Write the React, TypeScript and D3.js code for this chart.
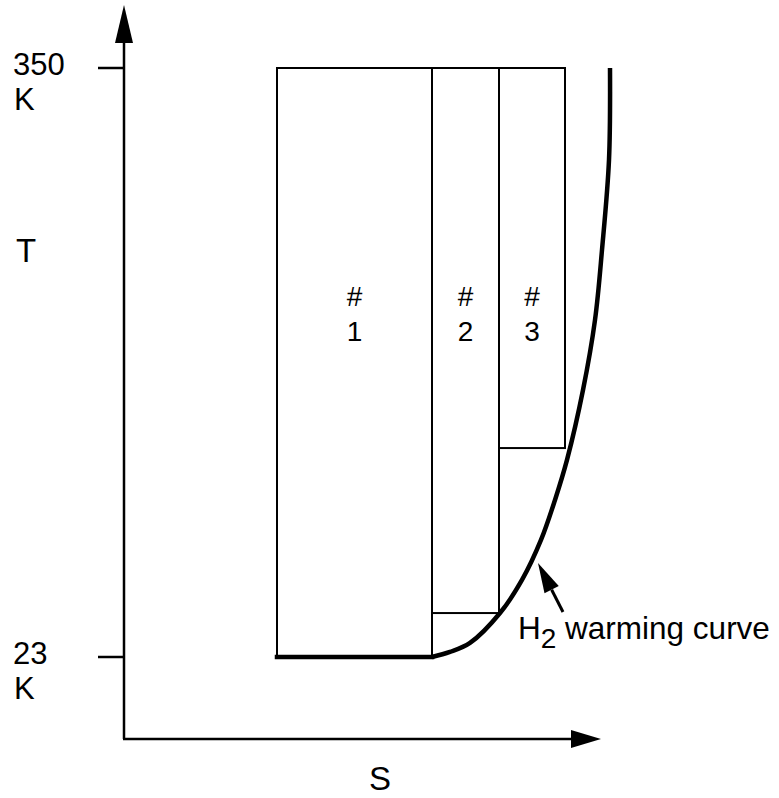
import React from "react";
import * as d3 from "d3";

// ---- data (S in arbitrary entropy units, T in kelvin) ----
const T_LOW = 23;
const T_HIGH = 350;
const tickValues = [23, 350];
const tickLabels = ["23", "350"];
const tickUnit = "K";

// stage rectangles: left S, right S, bottom T
const stageNames = ["1", "2", "3"];
const stageLeft = [30.6, 61.6, 75.0];
const stageRight = [61.6, 75.0, 88.2];
const stageBottom = [23, 47.4, 139];

// H2 warming curve (first segment is the flat 23 K stretch)
const curveS = [30.6, 61.6, 65.2, 69.2, 75.2, 79.6, 83.4, 86.2, 88.6, 91.8, 94.2, 95.6, 97.0, 97.2];
const curveT = [23, 23, 25.8, 30.8, 47.4, 65.8, 88.0, 110.2, 132.4, 171.2, 210.1, 249.0, 299.0, 350];

// annotation arrow (tail -> tip) in data units
const arrowS = [87.8, 82.8];
const arrowT = [48, 75.2];
const annotS = 78.8;
const annotT = 33;

const W = 779;
const H = 798;

export default function App() {
  const x = d3.scaleLinear().domain([0, 100]).range([124, 624]);
  const y = d3.scaleLinear().domain([T_LOW, T_HIGH]).range([657, 68]);

  const axisX0 = x(0);
  const axisY0 = 739;

  const idx = curveS.map((_, i) => i);
  const flat = d3
    .line<number>()
    .x((i) => x(curveS[i]))
    .y((i) => y(curveT[i]));
  const smooth = d3
    .line<number>()
    .x((i) => x(curveS[i]))
    .y((i) => y(curveT[i]))
    .curve(d3.curveCatmullRom.alpha(0.5));

  const font = "'Liberation Sans', Arial, Helvetica, sans-serif";

  // annotation arrow geometry
  const ax1 = x(arrowS[0]);
  const ay1 = y(arrowT[0]);
  const ax2 = x(arrowS[1]);
  const ay2 = y(arrowT[1]);
  const ang = Math.atan2(ay2 - ay1, ax2 - ax1);
  const headLen = 30;
  const headHalf = 8;
  const bx = ax2 - headLen * Math.cos(ang);
  const by = ay2 - headLen * Math.sin(ang);
  const px = -Math.sin(ang) * headHalf;
  const py = Math.cos(ang) * headHalf;

  return (
    <svg
      width={W}
      height={H}
      style={{ position: "absolute", left: 0, top: 0, background: "#fff" }}
      fontFamily={font}
    >
      {/* axes */}
      <line x1={axisX0} y1={axisY0} x2={axisX0} y2={40} stroke="#000" strokeWidth={2.5} />
      <polygon points={`${axisX0},5 ${axisX0 - 9},43 ${axisX0 + 9},43`} fill="#000" />
      <line x1={axisX0 - 1} y1={axisY0} x2={574} y2={axisY0} stroke="#000" strokeWidth={2.5} />
      <polygon points={`601,${axisY0} 571,${axisY0 - 9} 571,${axisY0 + 9}`} fill="#000" />

      {/* ticks and labels */}
      {tickValues.map((v, i) => (
        <g key={v}>
          <line x1={axisX0 - 26} x2={axisX0} y1={y(v)} y2={y(v)} stroke="#000" strokeWidth={2.5} />
          <text x={13} y={y(v) + 7} fontSize={31}>
            {tickLabels[i]}
          </text>
          <text x={14} y={y(v) + 42} fontSize={31}>
            {tickUnit}
          </text>
        </g>
      ))}
      <text x={16} y={262} fontSize={33}>T</text>
      <text x={380} y={790} fontSize={33} textAnchor="middle">S</text>

      {/* stage rectangles */}
      {stageNames.map((n, i) => {
        const l = x(stageLeft[i]);
        const r = x(stageRight[i]);
        const t = y(T_HIGH);
        const b = y(stageBottom[i]);
        const cx = (l + r) / 2;
        return (
          <g key={n}>
            <rect x={l} y={t} width={r - l} height={b - t} fill="none" stroke="#000" strokeWidth={2} />
            <text x={cx} y={306} fontSize={28} textAnchor="middle">#</text>
            <text x={cx} y={341} fontSize={28} textAnchor="middle">{n}</text>
          </g>
        );
      })}

      {/* warming curve */}
      <path d={flat(idx.slice(0, 2)) || ""} fill="none" stroke="#000" strokeWidth={4.5} strokeLinecap="square" />
      <path d={smooth(idx.slice(1)) || ""} fill="none" stroke="#000" strokeWidth={4.5} strokeLinecap="butt" />

      {/* annotation */}
      <line x1={ax1} y1={ay1} x2={bx} y2={by} stroke="#000" strokeWidth={3} />
      <polygon points={`${ax2},${ay2} ${bx + px},${by + py} ${bx - px},${by - py}`} fill="#000" />
      <text x={x(annotS)} y={y(annotT)} fontSize={31.5}>
        H
        <tspan dy={9} fontSize={28}>2</tspan>
        <tspan dy={-9}> warming curve</tspan>
      </text>
    </svg>
  );
}
